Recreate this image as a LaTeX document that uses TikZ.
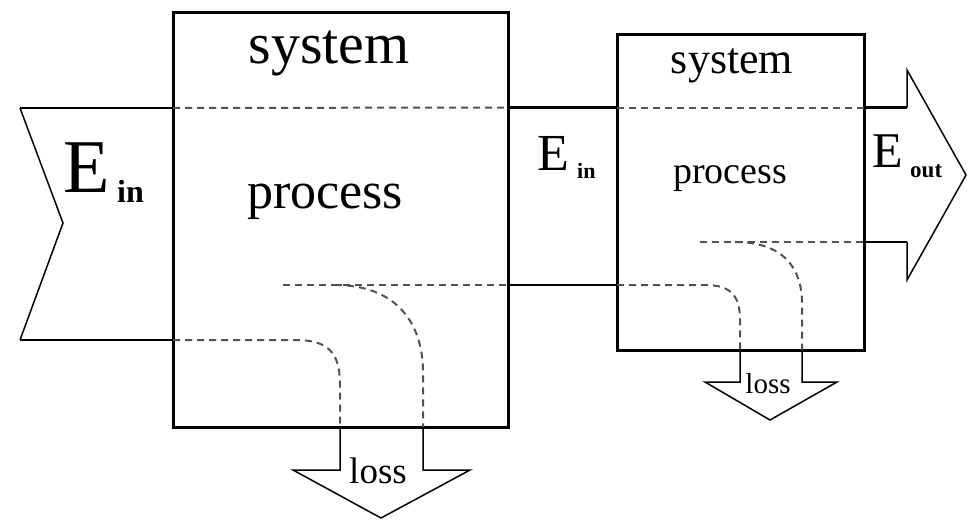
\documentclass[tikz,border=0pt]{standalone}
\usepackage{fontspec}
\setmainfont{Liberation Serif}
\begin{document}
\begin{tikzpicture}[x=1pt,y=-1pt,
  boxline/.style={line width=3pt,line join=miter},
  thickline/.style={line width=2.8pt},
  thinline/.style={line width=1.5pt,line join=miter},
  flow/.style={dashed,dash pattern=on 7pt off 5pt,line width=2pt,draw=black!68},
  lbl/.style={inner sep=0pt,anchor=base},
  lblw/.style={inner sep=0pt,anchor=base west}]
\useasboundingbox (0,0) rectangle (968,522);
% key points
\coordinate (B1nw) at (173,12); \coordinate (B1se) at (508,427);
\coordinate (B2nw) at (617,34); \coordinate (B2se) at (864,350);
% boxes
\draw[boxline] (B1nw) rectangle (B1se);
\draw[boxline] (B2nw) rectangle (B2se);
% left input arrow
\coordinate (a1) at (20,108); \coordinate (a2) at (63,223); \coordinate (a3) at (20,340);
\coordinate (a1b) at (173,108); \coordinate (a3b) at (173,340);
\draw[thickline] (a1b) -- (a1);
\draw[thickline] (a3b) -- (a3);
\draw[thinline] (a1) -- (a2) -- (a3);
% channel between boxes
\coordinate (m1) at (508,107.5); \coordinate (m2) at (617,107.5);
\coordinate (m3) at (508,285); \coordinate (m4) at (617,285);
\draw[thickline] (m1) -- (m2);
\draw[thickline] (m3) -- (m4);
% output arrow
\coordinate (o1) at (864,107.5); \coordinate (o2) at (907,107.5);
\coordinate (o3) at (907,70); \coordinate (o4) at (966,175);
\coordinate (o5) at (907,280); \coordinate (o6) at (907,242);
\coordinate (o7) at (864,242);
\draw[thickline] (o1) -- (o2);
\draw[thickline] (o7) -- (o6);
\draw[thinline] (o2) -- (o3) -- (o4) -- (o5) -- (o6);
% left loss arrow
\coordinate (l1) at (340,427); \coordinate (l2) at (423,427);
\draw[thinline] (l1) -- (340,470) -- (293,470) -- (381,518) -- (470,470) -- (423,470) -- (l2);
% right loss arrow
\coordinate (r1) at (740,350); \coordinate (r2) at (802,350);
\draw[thinline] (r1) -- (740,382) -- (705,382) -- (770,420) -- (837,382) -- (802,382) -- (r2);
% dashed flows, left box
\draw[flow] (a1b) -- (m1);
\draw[flow] (a3b) -- (295,340) .. controls (328,340) and (340,352) .. (340,385) -- (l1);
\draw[flow] (283,285) -- (m3);
\draw[flow] (335,285) .. controls (398,285) and (423,325) .. (423,372) -- (l2);
% dashed flows, right box
\draw[flow] (m2) -- (o1);
\draw[flow] (m4) -- (705,285) .. controls (731,285) and (740,296) .. (740,320) -- (r1);
\draw[flow] (700,242) -- (o7);
\draw[flow] (735,242) .. controls (785,242) and (802,270) .. (802,303) -- (r2);
% labels
\node[lbl] (sys1) at (329,63) {\fontsize{58}{60}\selectfont system};
\node[lbl] (proc1) at (325,208) {\fontsize{52}{54}\selectfont process};
\node[lblw] (E1) at (63,192) {\fontsize{76}{78}\selectfont E};
\node[lblw] (in1) at (117,202) {\fontsize{32}{34}\selectfont\bfseries in};
\node[lbl] (sys2) at (732,73) {\fontsize{44}{46}\selectfont system};
\node[lbl] (proc2) at (730,183) {\fontsize{38}{40}\selectfont process};
\node[lblw] (E2) at (537,170) {\fontsize{52}{54}\selectfont E};
\node[lblw] (in2) at (577,178) {\fontsize{22}{24}\selectfont\bfseries in};
\node[lblw] (E3) at (872,167) {\fontsize{50}{52}\selectfont E};
\node[lblw] (out3) at (910,177) {\fontsize{23}{25}\selectfont\bfseries out};
\node[lbl] (loss1) at (378,483) {\fontsize{37}{39}\selectfont loss};
\node[lbl] (loss2) at (768,393) {\fontsize{29}{31}\selectfont loss};
\end{tikzpicture}
\end{document}
